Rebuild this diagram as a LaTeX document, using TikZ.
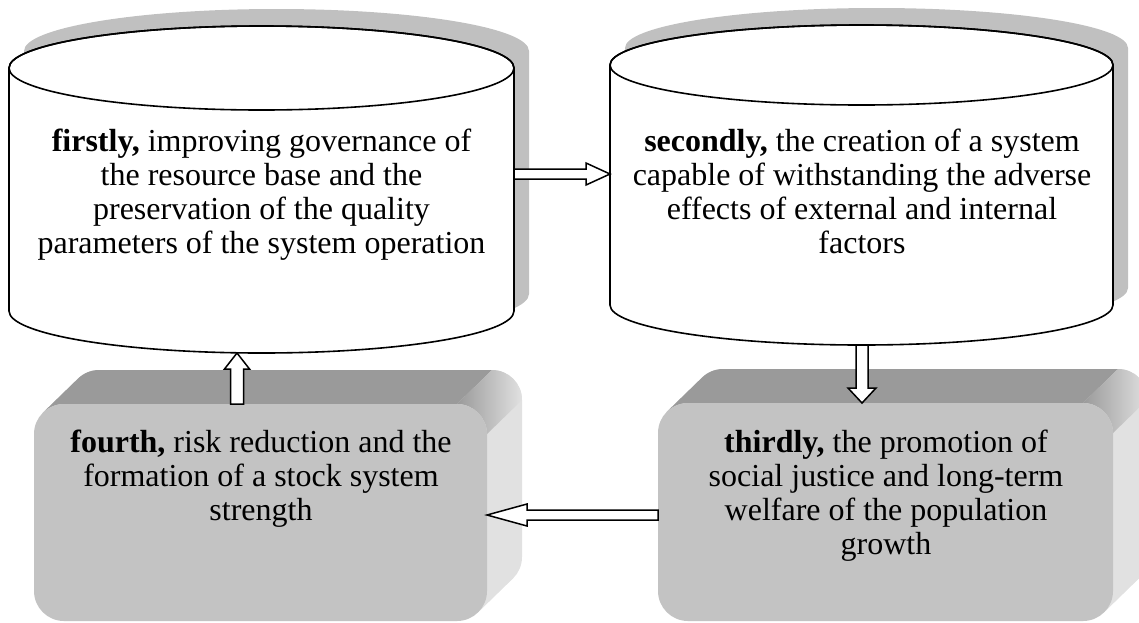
\documentclass[tikz,border=0pt]{standalone}
\usepackage{fontspec}
\setmainfont{Liberation Serif}
\usetikzlibrary{calc}
\definecolor{shadowgray}{RGB}{192, 192, 192}
\definecolor{facegray}{RGB}{195, 195, 195}
\definecolor{topgray}{RGB}{154, 154, 154}
\definecolor{sidegray}{RGB}{225, 225, 225}
\newcommand{\drawdrum}[5]{
  \pgfmathsetmacro{\cx}{#1}
  \pgfmathsetmacro{\rx}{#2}
  \pgfmathsetmacro{\yt}{#3}
  \pgfmathsetmacro{\yb}{#4}
  \pgfmathsetmacro{\ry}{#5}

  \fill[shadowgray]    ({\cx - \rx + 15}, {\yt - 17}) -- ({\cx - \rx + 15}, {\yb - 17})
                    arc[start angle=180, end angle=0, x radius=\rx, y radius=\ry]
                    -- ({\cx + \rx + 15}, {\yt - 17})
                    arc[start angle=0, end angle=-180, x radius=\rx, y radius=\ry] -- cycle;

  \filldraw[fill=white, drumline]    ({\cx - \rx}, \yt) -- ({\cx - \rx}, \yb)
                                  arc[start angle=180, end angle=0, x radius=\rx, y radius=\ry]
                                  -- ({\cx + \rx}, \yt)
                                  arc[start angle=0, end angle=-180, x radius=\rx, y radius=\ry] -- cycle;

  \draw[drumline] (\cx, \yt) ellipse[x radius=\rx, y radius=\ry];
}
\newcommand{\drawslab}[4]{
  \pgfmathsetmacro{\xa}{#1}
  \pgfmathsetmacro{\ya}{#2}
  \pgfmathsetmacro{\xb}{#3}
  \pgfmathsetmacro{\yb}{#4}
  \pgfmathsetmacro{\ox}{35}
  \pgfmathsetmacro{\oy}{-34}
  \pgfmathsetmacro{\rr}{30}
  \pgfmathsetmacro{\cc}{\rr * (1 - sqrt(0.5))}

  \fill[sidegray, rounded corners=\rr pt] ({\xa + \ox}, {\ya + \oy}) rectangle ({\xb + \ox}, {\yb + \oy});
  \fill[sidegray]    ({\xa + \cc}, {\ya + \cc}) -- ({\xa + \cc + \ox}, {\ya + \cc + \oy})
                  -- ({\xb - \cc + \ox}, {\yb - \cc + \oy}) -- ({\xb - \cc}, {\yb - \cc}) -- cycle;

  \fill[topgray]    ({\xa + \cc}, {\ya + \cc}) -- ({\xa + \cc + \ox}, {\ya + \cc + \oy})
                 arc[start angle=225, end angle=270, radius=\rr]
                 -- ({\xb - \rr + \ox}, {\ya + \oy}) -- ({\xb - \rr}, \ya) -- ({\xa + \rr}, \ya)
                 arc[start angle=270, end angle=225, radius=\rr] -- cycle;

  \shade[left color=topgray, right color=sidegray]    ({\xb - \rr}, \ya) -- ({\xb - \rr + \ox}, {\ya + \oy})
                                                   arc[start angle=270, end angle=360, radius=\rr]
                                                   -- (\xb, {\ya + \rr})
                                                   arc[start angle=360, end angle=270, radius=\rr] -- cycle;

  \fill[facegray, rounded corners=\rr pt] (\xa, \ya) rectangle (\xb, \yb);
}
\newcommand{\blockarrow}[7]{
  \pgfmathsetmacro{\ux}{#3}
  \pgfmathsetmacro{\uy}{#4}
  \pgfmathsetmacro{\sw}{#5}
  \pgfmathsetmacro{\hw}{#6}
  \pgfmathsetmacro{\hl}{#7}

  \draw[arrowbody]    ($(#1) + ({-(\uy) * \sw}, {(\ux) * \sw})$)
                   -- ($(#2) + ({-(\ux) * \hl - (\uy) * \sw}, {-(\uy) * \hl + (\ux) * \sw})$)
                   -- ($(#2) + ({-(\ux) * \hl - (\uy) * \hw}, {-(\uy) * \hl + (\ux) * \hw})$)
                   -- (#2)
                   -- ($(#2) + ({-(\ux) * \hl + (\uy) * \hw}, {-(\uy) * \hl - (\ux) * \hw})$)
                   -- ($(#2) + ({-(\ux) * \hl + (\uy) * \sw}, {-(\uy) * \hl - (\ux) * \sw})$)
                   -- ($(#1) + ({(\uy) * \sw}, {-(\ux) * \sw})$) -- cycle;
}

\begin{document}
\begin{tikzpicture}[x=1pt, y=-1pt,
    drumline/.style={line width=1.6pt},
    arrowbody/.style={fill=white, line width=1.5pt, line join=miter},
    blurb/.style={align=center, inner sep=0pt, font=\fontsize{32}{34}\selectfont}]

  \useasboundingbox (0, 0) rectangle (1139, 622);

  \foreach \cx/\rx/\yt/\yb/\ry in {261.5/252.5/68/311/42, 861.5/251.5/65/305/40} {
    \drawdrum{\cx}{\rx}{\yt}{\yb}{\ry}
  }

  \foreach \xa/\ya/\xb/\yb in {34/404/487/621, 658/403/1113/621} {
    \drawslab{\xa}{\ya}{\xb}{\yb}
  }

  % base anchor sits on the last line
  \node[blurb, anchor=base] (firstly) at (261.5, 253) {\textbf{firstly,} improving governance of\\
    the resource base and the\\ preservation of the quality\\ parameters of the system operation};
  \node[blurb, anchor=base] (secondly) at (862, 253) {\textbf{secondly,} the creation of a system\\
    capable of withstanding the adverse\\ effects of external and internal\\ factors};
  \node[blurb, anchor=base] (thirdly) at (886, 554) {\textbf{thirdly,} the promotion of\\
    social justice and long-term\\ welfare of the population\\ growth};
  \node[blurb, anchor=base] (fourth) at (261, 520) {\textbf{fourth,} risk reduction and the\\
    formation of a stock system\\ strength};

  \coordinate (firstly-out) at (514, 174);
  \coordinate (secondly-in) at (610, 174);
  \coordinate (secondly-out) at (862, 345);
  \coordinate (thirdly-in) at (862, 403);
  \coordinate (thirdly-out) at (658, 515);
  \coordinate (fourth-in) at (487, 515);
  \coordinate (fourth-out) at (237, 404);
  \coordinate (firstly-in) at (237, 353);

  \blockarrow{firstly-out}{secondly-in}{1}{0}{5}{11}{24}
  \blockarrow{secondly-out}{thirdly-in}{0}{1}{6}{14}{15}
  \blockarrow{thirdly-out}{fourth-in}{-1}{0}{5}{11}{40}
  \blockarrow{fourth-out}{firstly-in}{0}{-1}{6.5}{12.5}{16}

\end{tikzpicture}
\end{document}
